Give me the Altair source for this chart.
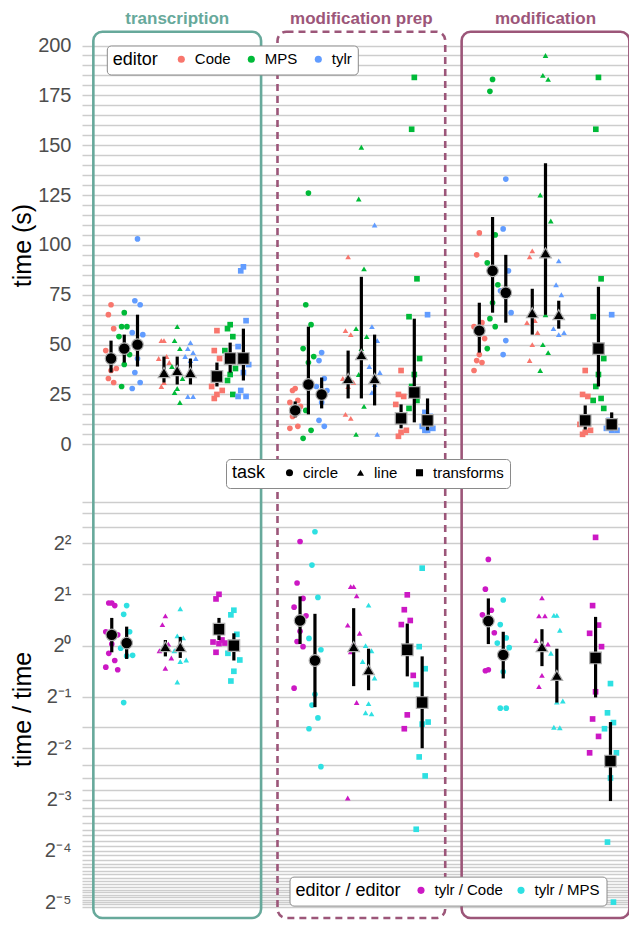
import altair as alt
import pandas as pd

stages = ["transcription", "modification prep", "modification"]
tasks = ["circle", "line", "transforms"]
editors = ["Code", "MPS", "tylr"]
ratios = ["tylr / Code", "tylr / MPS"]
task_shapes = ["circle", "triangle-up", "square"]
editor_colors = ["#F8766D", "#00BA38", "#619CFF"]
ratio_colors = ["#CC18C4", "#2EE0E2"]
stage_colors = ["#67A99B", "#9C5679", "#9C5679"]

# ---- time (s) per participant: stage / task -> editor -> values
tr_circle = {"Code": [70, 65, 58, 47, 38, 37, 33, 31],
             "MPS": [66, 59, 59, 54, 45, 40, 29],
             "tylr": [103, 72, 70, 56, 55, 43, 36, 31, 28]}
tr_line = {"Code": [52, 52, 44, 43, 41, 31, 29],
           "MPS": [59, 52, 48, 39, 33, 28, 26, 21],
           "tylr": [51, 48, 46, 44, 43, 42, 24, 24]}
tr_transforms = {"Code": [57, 47, 43, 29, 27, 25, 23],
                 "MPS": [60, 58, 54, 47, 38, 35, 32, 25],
                 "tylr": [89, 87, 62, 49, 40, 36, 27, 24, 24]}
mp_circle = {"Code": [28, 27, 22, 21, 19, 15, 14, 9, 8],
             "MPS": [126, 70, 60, 48, 44, 41, 17, 7, 3],
             "tylr": [46, 42, 33, 29, 27, 21, 12, 9]}
mp_line = {"Code": [94, 57, 55, 33, 31, 29, 15, 13],
           "MPS": [149, 123, 88, 58, 54, 48, 35, 19, 5],
           "tylr": [110, 59, 52, 39, 36, 30, 26, 5]}
mp_transforms = {"Code": [37, 25, 24, 20, 7, 6, 4],
                 "MPS": [184, 158, 83, 64, 43, 35, 29, 22, 18],
                 "tylr": [65, 16, 14, 9, 8, 7, 7]}
md_circle = {"Code": [106, 95, 61, 59, 53, 45, 42, 41, 37],
             "MPS": [183, 177, 105, 91, 80, 71, 63, 59, 48],
             "tylr": [133, 108, 87, 77, 66, 52, 45]}
md_line = {"Code": [97, 94, 62, 61, 56, 50, 42],
           "MPS": [195, 185, 183, 125, 112, 65, 50, 46, 37],
           "tylr": [92, 80, 75, 58, 56, 55]}
md_transforms = {"Code": [37, 25, 24, 10, 7, 6, 5],
                 "MPS": [184, 158, 83, 64, 43, 35, 29, 23, 22, 18],
                 "tylr": [65, 12, 10, 8, 7, 7]}

# ---- summary of time (centre, low, high)
tr_circle_ci = {"Code": (43, 36, 52), "MPS": (48, 41, 55), "tylr": (50, 39, 65)}
tr_line_ci = {"Code": (36, 31, 44), "MPS": (37, 30, 44), "tylr": (36, 30, 43)}
tr_transforms_ci = {"Code": (34, 29, 41), "MPS": (43, 36, 51), "tylr": (43, 32, 58)}
mp_circle_ci = {"Code": (17, 13.5, 21.5), "MPS": (30, 15, 59), "tylr": (25, 18, 33.5)}
mp_line_ci = {"Code": (33, 23, 47), "MPS": (45, 23, 84), "tylr": (33, 19.5, 55)}
mp_transforms_ci = {"Code": (13, 8, 20), "MPS": (26, 11, 63), "tylr": (12, 7, 23)}
md_circle_ci = {"Code": (57, 46, 71), "MPS": (87, 66, 114), "tylr": (76, 61, 95)}
md_line_ci = {"Code": (66, 55, 78), "MPS": (96, 65, 141), "tylr": (65, 58, 72)}
md_transforms_ci = {"Code": (12, 7.4, 19.5), "MPS": (48, 29, 79), "tylr": (10, 7, 16)}

# ---- log2 of time ratio per participant: stage / task -> ratio -> values
tr_circle_r = {"tylr / Code": [0.83, 0.83, 0.78, 0.27, 0.21, 0.03, -0.15, -0.29, -0.42, -0.47],
               "tylr / MPS": [0.78, 0.61, 0.27, -0.05, -0.19, -0.2, -1.11]}
tr_line_r = {"tylr / Code": [0.58, 0.41, 0.03, -0.1, -0.24, -0.44],
             "tylr / MPS": [0.72, 0.19, 0.15, -0.1, -0.28, -0.31, -0.71]}
tr_transforms_r = {"tylr / Code": [1.0, 0.91, 0.11, 0.07, 0.05, 0.04, -0.13],
                   "tylr / MPS": [0.69, 0.6, 0.22, -0.15, -0.28, -0.5, -0.69]}
mp_circle_r = {"tylr / Code": [2.03, 1.22, 0.92, 0.75, 0.58, 0.28, 0.08, -0.02, -0.83],
               "tylr / MPS": [2.22, 1.57, 0.94, 0.14, -0.08, -0.95, -1.16, -1.41, -1.62, -2.36]}
mp_line_r = {"tylr / Code": [1.15, 1.15, 0.97, 0.4, 0.24, 0.05, -0.12, -1.11, -2.97],
             "tylr / MPS": [0.79, 0.0, -0.1, -0.31, -0.63, -1.13, -1.31, -1.33]}
mp_transforms_r = {"tylr / Code": [0.99, 0.7, 0.49, 0.41, -0.58, -1.35, -1.62],
                   "tylr / MPS": [1.51, -0.02, -0.45, -0.76, -1.49, -1.53, -2.17, -2.54, -3.58]}
md_circle_r = {"tylr / Code": [1.68, 1.1, 0.69, 0.6, 0.25, -0.47, -0.49],
               "tylr / MPS": [0.89, 0.41, 0.15, 0.05, -0.04, -0.51, -1.22, -1.22]}
md_line_r = {"tylr / Code": [0.93, 0.58, 0.58, 0.1, 0.03, -0.58, -0.8],
             "tylr / MPS": [0.59, 0.59, 0.3, -0.15, -1.08, -1.1, -1.59, -1.6]}
md_transforms_r = {"tylr / Code": [2.11, 0.78, 0.4, 0.24, -0.02, -0.9, -1.43, -1.77, -2.09],
                   "tylr / MPS": [-0.74, -1.31, -1.5, -1.62, -2.09, -2.58, -3.83, -5.0]}

# ---- summary of log2 ratio (centre, low, high)
tr_circle_rci = {"tylr / Code": (0.21, -0.13, 0.54), "tylr / MPS": (0.05, -0.26, 0.37)}
tr_line_rci = {"tylr / Code": (-0.02, -0.21, 0.11), "tylr / MPS": (-0.02, -0.24, 0.17)}
tr_transforms_rci = {"tylr / Code": (0.32, 0.11, 0.54), "tylr / MPS": (0.0, -0.29, 0.24)}
mp_circle_rci = {"tylr / Code": (0.49, 0.03, 0.96), "tylr / MPS": (-0.29, -1.2, 0.62)}
mp_line_rci = {"tylr / Code": (-0.02, -0.79, 0.73), "tylr / MPS": (-0.47, -0.87, -0.06)}
mp_transforms_rci = {"tylr / Code": (-0.08, -0.6, 0.43), "tylr / MPS": (-1.11, -2.0, -0.21)}
md_circle_rci = {"tylr / Code": (0.48, 0.03, 0.92), "tylr / MPS": (-0.18, -0.64, 0.27)}
md_line_rci = {"tylr / Code": (-0.02, -0.4, 0.32), "tylr / MPS": (-0.58, -1.11, -0.06)}
md_transforms_rci = {"tylr / Code": (-0.24, -1.01, 0.56), "tylr / MPS": (-2.25, -3.03, -1.49)}

time_sets = {
    ("transcription", "circle"): (tr_circle, tr_circle_ci, tr_circle_r, tr_circle_rci),
    ("transcription", "line"): (tr_line, tr_line_ci, tr_line_r, tr_line_rci),
    ("transcription", "transforms"): (tr_transforms, tr_transforms_ci, tr_transforms_r, tr_transforms_rci),
    ("modification prep", "circle"): (mp_circle, mp_circle_ci, mp_circle_r, mp_circle_rci),
    ("modification prep", "line"): (mp_line, mp_line_ci, mp_line_r, mp_line_rci),
    ("modification prep", "transforms"): (mp_transforms, mp_transforms_ci, mp_transforms_r, mp_transforms_rci),
    ("modification", "circle"): (md_circle, md_circle_ci, md_circle_r, md_circle_rci),
    ("modification", "line"): (md_line, md_line_ci, md_line_r, md_line_rci),
    ("modification", "transforms"): (md_transforms, md_transforms_ci, md_transforms_r, md_transforms_rci),
}

# horizontal dodge slots with 5 jitter sub-slots each, and gaps between tasks
JIT = [2, 1, 3, 0, 4]
top_offsets = []
for ti, t in enumerate(tasks):
    if ti > 0:
        top_offsets += [f"gap{ti}-{k}" for k in range(5)]
    for e in editors:
        top_offsets += [f"{t}|{e}|{k}" for k in range(5)]
bot_offsets = []
for ti, t in enumerate(tasks):
    if ti > 0:
        bot_offsets += [f"gap{ti}-{k}" for k in range(8)]
    for r in ratios:
        bot_offsets += [f"{t}|{r}|{k}" for k in range(5)]

top_rows, top_ci, bot_rows, bot_ci = [], [], [], []
for (st, tk), (vals, ci, rvals, rci) in time_sets.items():
    for ed in editors:
        for i, v in enumerate(vals[ed]):
            top_rows.append(dict(stage=st, task=tk, editor=ed, slot=f"{tk}|{ed}|{JIT[i % 5]}", time=v))
        m, lo, hi = ci[ed]
        top_ci.append(dict(stage=st, task=tk, editor=ed, slot=f"{tk}|{ed}|2", mid=m, lo=lo, hi=hi))
    for r in ratios:
        for i, v in enumerate(rvals[r]):
            bot_rows.append(dict(stage=st, task=tk, ratio_name=r, slot=f"{tk}|{r}|{JIT[i % 5]}", l2=v))
        m, lo, hi = rci[r]
        bot_ci.append(dict(stage=st, task=tk, ratio_name=r, slot=f"{tk}|{r}|2",
                           l2mid=m, l2lo=lo, l2hi=hi))

df_top = pd.DataFrame(top_rows)
df_top_ci = pd.DataFrame(top_ci)
df_bot = pd.DataFrame(bot_rows)
df_bot_ci = pd.DataFrame(bot_ci)
df_stage = pd.DataFrame({"stage": stages, "c": stage_colors})

FONT = "Liberation Sans"

X = alt.X("stage:N", scale=alt.Scale(type="band", domain=stages, paddingInner=0.2093, paddingOuter=0.0899,
                                     align=0.677), axis=None)
XO = alt.XOffset("slot:N", scale=alt.Scale(domain=top_offsets, paddingInner=0, paddingOuter=0))
XB = alt.X("stage:N", scale=alt.Scale(type="band", domain=stages, paddingInner=0.2724, paddingOuter=0.0887,
                                      align=0.668), axis=None)
XOB = alt.XOffset("slot:N", scale=alt.Scale(domain=bot_offsets, paddingInner=0, paddingOuter=0))

TOP_SCALE = alt.Scale(domain=[0, 200], range=[436.3, 37.5], nice=False, zero=False)
BOT_SCALE = alt.Scale(type="log", base=2, domain=[1 / 34, 7], range=[898.6, 493.6], nice=False)

top_axis = alt.Axis(orient="left", grid=True, values=list(range(0, 201, 5)),
                    labelExpr="datum.value % 25 == 0 ? datum.label : ''",
                    title="time (s)", titleX=-60, titleY=237, titleBaseline="middle")
grid_vals = [7, 6, 5, 4, 3, 2, 1] + [1 / n for n in range(2, 35)]
sup = {4: "2²", 2: "2¹", 1: "2⁰", 0.5: "2⁻¹", 0.25: "2⁻²", 0.125: "2⁻³", 0.0625: "2⁻⁴", 0.03125: "2⁻⁵"}
lab_expr = " : ".join([f"datum.value == {k} ? '{v}'" for k, v in sup.items()]) + " : ''"
bot_axis = alt.Axis(orient="left", grid=True, values=grid_vals, labelExpr=lab_expr,
                    title="time / time", titleX=-60, titleY=701, titleBaseline="middle")

legend_common = dict(orient="none", direction="horizontal", titleOrient="left",
                     fillColor="white", strokeColor="#8A8A8A", cornerRadius=4, padding=6,
                     titleFontSize=18, labelFontSize=15, titleFontWeight="normal",
                     titleColor="black", labelColor="black", titleFont=FONT, labelFont=FONT,
                     symbolSize=50, labelOffset=6)
task_legend = alt.Legend(title="task", legendX=144, legendY=451, columnPadding=14, titlePadding=16,
                         symbolFillColor="black", symbolStrokeColor="black", symbolStrokeWidth=0,
                         **legend_common)
SHAPE = alt.Shape("task:N", scale=alt.Scale(domain=tasks, range=task_shapes), legend=task_legend)

# ---- top panel
top_pts = alt.Chart(df_top).mark_point(filled=True, size=32, opacity=1).encode(
    x=X, xOffset=XO,
    y=alt.Y("time:Q", scale=TOP_SCALE, axis=top_axis),
    color=alt.Color("editor:N", scale=alt.Scale(domain=editors, range=editor_colors),
                    legend=alt.Legend(title="editor", symbolType="circle", legendX=24.8, legendY=37.5,
                                      columnPadding=13, titlePadding=15, **legend_common)),
    shape=SHAPE,
)
top_rule = alt.Chart(df_top_ci).mark_rule(color="black", strokeWidth=3.2).encode(
    x=X, xOffset=XO,
    y=alt.Y("lo:Q", scale=TOP_SCALE, axis=top_axis), y2="hi:Q",
)
top_sum = alt.Chart(df_top_ci).mark_point(filled=True, size=135, color="black", stroke="#B0B0B0",
                                          strokeWidth=1.2, opacity=1).encode(
    x=X, xOffset=XO,
    y=alt.Y("mid:Q", scale=TOP_SCALE, axis=top_axis),
    shape=SHAPE,
)
top_group = alt.layer(top_pts, top_rule, top_sum)

# ---- bottom panel
bot_pts = alt.Chart(df_bot).transform_calculate(r="pow(2, datum.l2)").mark_point(
    filled=True, size=32, opacity=1).encode(
    x=XB, xOffset=XOB,
    y=alt.Y("r:Q", scale=BOT_SCALE, axis=bot_axis),
    color=alt.Color("ratio_name:N", scale=alt.Scale(domain=ratios, range=ratio_colors),
                    legend=alt.Legend(title="editor / editor", symbolType="circle", legendX=207.5,
                                      legendY=868.6, columnPadding=10, titlePadding=12,
                                      **legend_common)),
    shape=SHAPE,
)
bot_rule = alt.Chart(df_bot_ci).transform_calculate(
    lo="pow(2, datum.l2lo)", hi="pow(2, datum.l2hi)").mark_rule(color="black", strokeWidth=3.2).encode(
    x=XB, xOffset=XOB,
    y=alt.Y("lo:Q", scale=BOT_SCALE, axis=bot_axis), y2="hi:Q",
)
bot_sum = alt.Chart(df_bot_ci).transform_calculate(mid="pow(2, datum.l2mid)").mark_point(
    filled=True, size=135, color="black", stroke="#B0B0B0", strokeWidth=1.2, opacity=1).encode(
    x=XB, xOffset=XOB,
    y=alt.Y("mid:Q", scale=BOT_SCALE, axis=bot_axis),
    shape=SHAPE,
)
bot_group = alt.layer(bot_pts, bot_rule, bot_sum)

# ---- stage frames and titles
frame_solid = alt.Chart(df_stage).transform_filter("datum.stage != 'modification prep'").mark_bar(
    filled=False, strokeWidth=2.6, cornerRadius=9, width=alt.RelativeBandSize(1.152)).encode(
    x=X, y=alt.value(23.7), y2=alt.value(910), color=alt.Color("c:N", scale=None))
frame_dash = alt.Chart(df_stage).transform_filter("datum.stage == 'modification prep'").mark_bar(
    filled=False, strokeWidth=2.6, cornerRadius=9, strokeDash=[7, 5],
    width=alt.RelativeBandSize(1.152)).encode(
    x=X, y=alt.value(23.7), y2=alt.value(910), color=alt.Color("c:N", scale=None))
titles = alt.Chart(df_stage).mark_text(fontSize=17, fontWeight="bold", font=FONT,
                                       baseline="alphabetic").encode(
    x=alt.X("stage:N", bandPosition=0.5,
            scale=alt.Scale(type="band", domain=stages, paddingInner=0.2093, paddingOuter=0.0899,
                            align=0.677), axis=None),
    y=alt.value(16), text="stage:N", color=alt.Color("c:N", scale=None))

chart = alt.layer(frame_solid, frame_dash, titles, top_group, bot_group).resolve_scale(
    y="independent", color="independent", x="independent", xOffset="independent"
).properties(
    width=547, height=912,
    autosize=alt.AutoSizeParams(type="none"),
    padding={"left": 74, "top": 0, "right": 0, "bottom": 0},
).configure_view(stroke=None).configure_axis(
    domain=False, ticks=False, labelFont=FONT, labelFontSize=20, labelColor="#4D4D4D",
    labelPadding=11, titleFont=FONT, titleFontSize=25, titleFontWeight="normal",
    titleColor="black", gridColor="#CDCDCD", gridWidth=1.3,
)

chart.save("out.html", embed_options={"renderer": "svg", "actions": False})
